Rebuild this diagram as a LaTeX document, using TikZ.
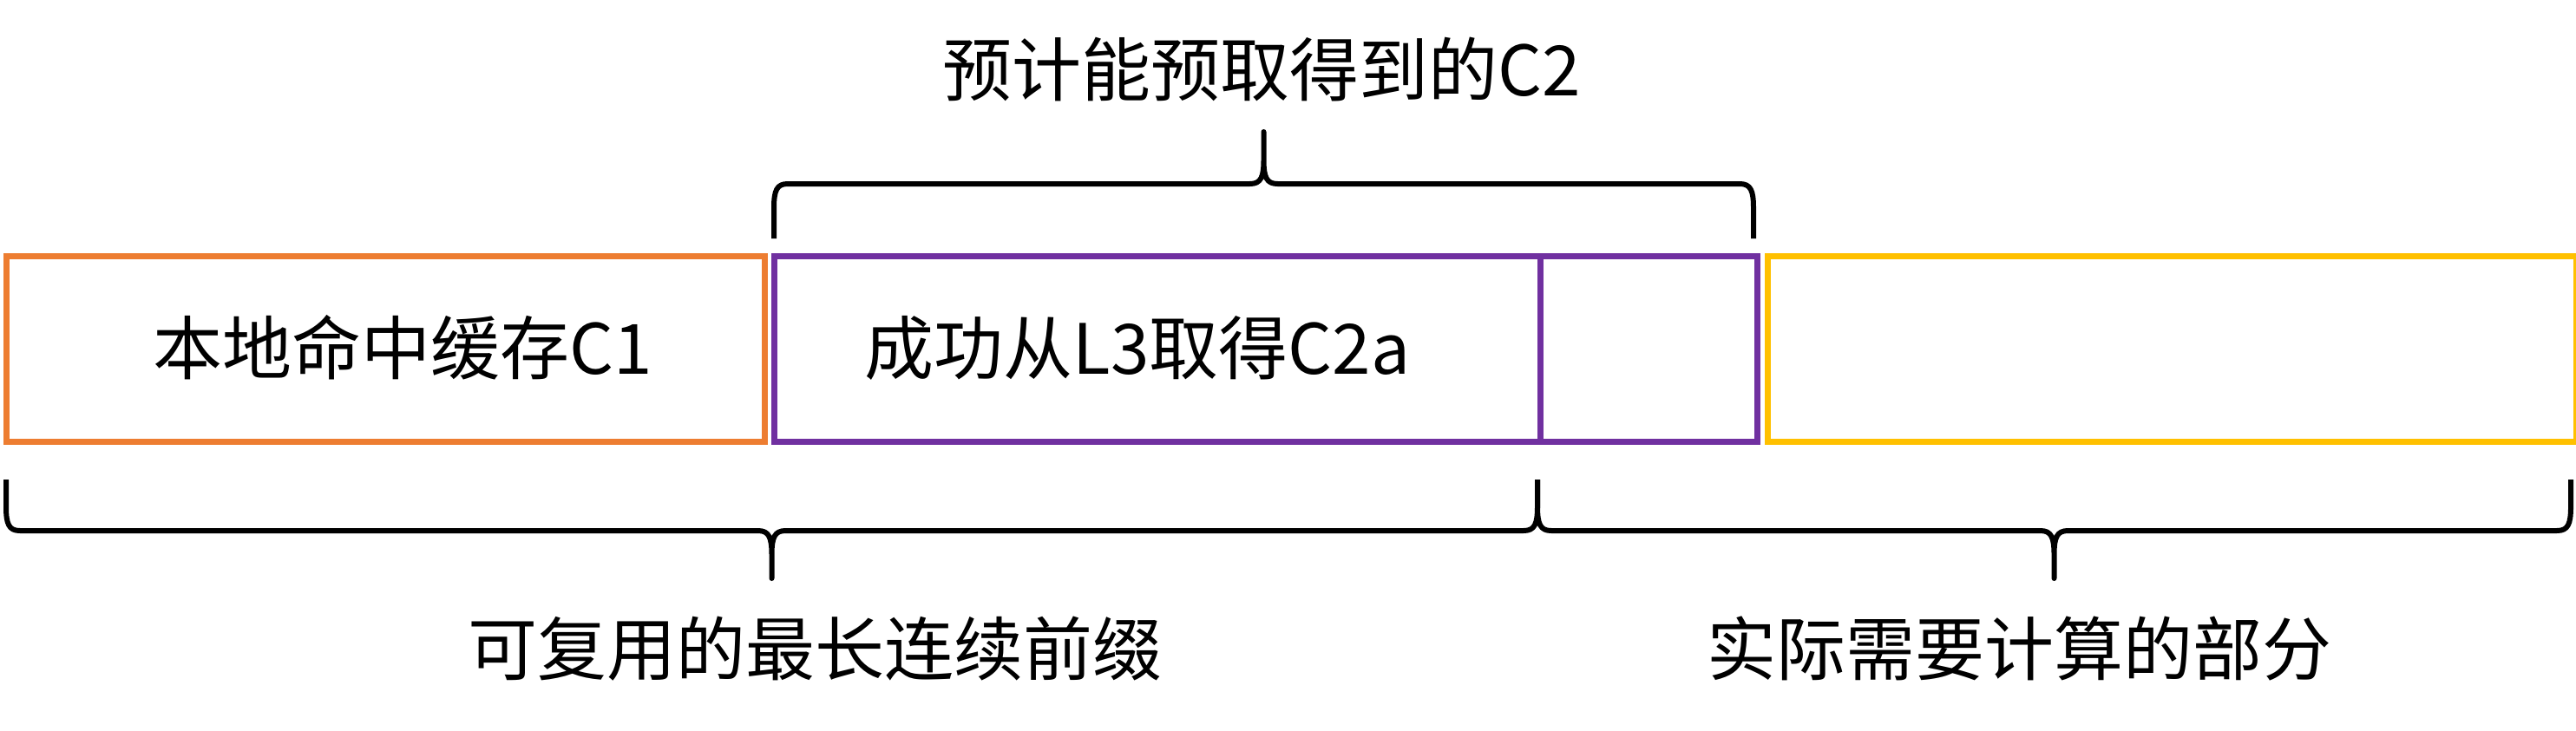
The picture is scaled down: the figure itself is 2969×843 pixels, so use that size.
\documentclass[tikz,border=0pt]{standalone}
\usepackage{fontspec}
\newfontfamily\cjk{Noto Sans CJK SC}
\definecolor{boxorange}{HTML}{ED7D31}
\definecolor{boxpurple}{HTML}{7030A0}
\definecolor{boxyellow}{HTML}{FFC000}
\tikzset{
  seg/.style={draw, line width=7pt, inner sep=0pt, minimum height=214pt, anchor=west},
  lbl/.style={font=\cjk\fontsize{80}{90}\selectfont, inner sep=0pt},
  bracestyle/.style={line width=6pt, line join=round}
}
% #1 x1, #2 x2, #3 y of ends, #4 y of bar, #5 y of tip, #6 sign (+1: ends below bar)
\newcommand{\ppbrace}[6]{%
  \pgfmathsetmacro\bxm{(#1+#2)/2}%
  \pgfmathsetmacro\bea{#4+28*(#6)}%
  \pgfmathsetmacro\beb{#4+8*(#6)}%
  \pgfmathsetmacro\bta{#4-28*(#6)}%
  \pgfmathsetmacro\btb{#4-8*(#6)}%
  \draw[bracestyle] ({#1},{#3}) -- ({#1},{\bea})
    .. controls ({#1},{\beb}) and ({#1+3},{#4}) .. ({#1+16},{#4})
    -- ({\bxm-16},{#4})
    .. controls ({\bxm-3},{#4}) and ({\bxm},{\btb}) .. ({\bxm},{\bta})
    -- ({\bxm},{#5}) -- ({\bxm},{\bta})
    .. controls ({\bxm},{\btb}) and ({\bxm+3},{#4}) .. ({\bxm+16},{#4})
    -- ({#2-16},{#4})
    .. controls ({#2-3},{#4}) and ({#2},{\beb}) .. ({#2},{\bea})
    -- ({#2},{#3});%
}
\begin{document}
\begin{tikzpicture}[x=1pt,y=-1pt]
\useasboundingbox (0,0) rectangle (2969,843);
% boxes
\node[seg, draw=boxorange, minimum width=874.5pt] (c1) at (3.5,402.5) {};
\node[seg, draw=boxpurple, minimum width=883.5pt] (c2a) at (888.5,402.5) {};
\node[seg, draw=boxpurple, minimum width=249.5pt] (c2b) at (1772,402.5) {};
\node[seg, draw=boxyellow, minimum width=932pt] (comp) at (2033.5,402.5) {};
% box labels
\node[lbl] (c1t) at (464,401) {本地命中缓存C1};
\node[lbl] (c2at) at (1311,401) {成功从L3取得C2a};
% braces
\ppbrace{892}{2021}{275}{212}{152}{1}
\ppbrace{7}{1772}{553}{612}{667}{-1}
\ppbrace{1772}{2963}{553}{612}{667}{-1}
% brace labels
\node[lbl] (toplbl) at (1454,80) {预计能预取得到的C2};
\node[lbl] (reuse) at (939,748) {可复用的最长连续前缀};
\node[lbl] (need) at (2327,748) {实际需要计算的部分};
\end{tikzpicture}
\end{document}
